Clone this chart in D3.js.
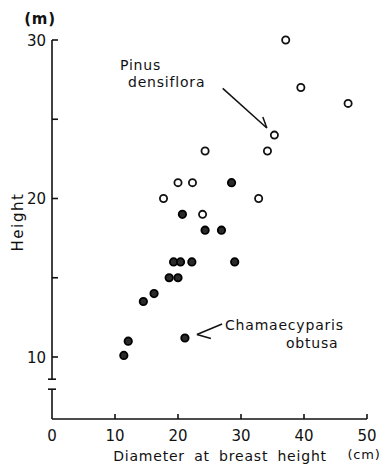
<!DOCTYPE html>
<html lang="en">
<head>
    <meta charset="UTF-8">
    <title>Height vs diameter</title>
    <script src="https://d3js.org/d3.v7.min.js"></script>
    <style>
        body{
            margin: 0;
            background: white;
        }
        text{
            font-family: "DejaVu Sans", sans-serif;
            fill: #111;
        }
        .lbl{
            font-size: 14px;
            letter-spacing: 0.8px;
        }
        .tick_lbl{
            font-size: 15px;
        }
    </style>
</head>
<body>
    <svg id="canvas" width="382" height="466"></svg>
    <script>
        // Pinus densiflora (open circles): diameter (cm), height (m)
        let pinusDbh    = [37.1, 39.5, 47.0, 35.3, 34.2, 24.3, 17.7, 20.0, 22.3, 23.9, 32.8]
        let pinusHeight = [30.0, 27.0, 26.0, 24.0, 23.0, 23.0, 20.0, 21.0, 21.0, 19.0, 20.0]
        // Chamaecyparis obtusa (filled circles)
        let chamDbh    = [28.5, 20.7, 24.3, 26.9, 19.3, 20.4, 22.2, 29.0, 18.6, 20.0, 16.2, 14.5, 12.1, 11.4, 21.1]
        let chamHeight = [21.0, 19.0, 18.0, 18.0, 16.0, 16.0, 16.0, 16.0, 15.0, 15.0, 14.0, 13.5, 11.0, 10.1, 11.2]

        let xTicks = [0, 10, 20, 30, 40, 50]
        let yTicks = [10, 15, 20, 25, 30]
        let yTickLabels = [10, 20, 30]

        let svg = d3.select('#canvas')
        let x0 = 52, x1 = 367
        let yBase = 419   // x axis position
        let xscale = d3.scaleLinear().domain([0, 50]).range([x0, x1])
        let yscale = d3.scaleLinear().domain([10, 30]).range([357, 40])

        let g = svg.append('g').attr('stroke', '#111').attr('fill', 'none').attr('stroke-width', 1.6)

        // y axis with break
        let breakTop = yscale(8.6), breakBot = breakTop + 10
        g.append('line').attr('x1', x0).attr('x2', x0).attr('y1', yscale(30)).attr('y2', breakTop)
        g.append('line').attr('x1', x0).attr('x2', x0).attr('y1', breakBot).attr('y2', yBase)
        g.append('line').attr('x1', x0 - 4).attr('x2', x0 + 4).attr('y1', breakTop).attr('y2', breakTop)
        g.append('line').attr('x1', x0 - 4).attr('x2', x0 + 4).attr('y1', breakBot).attr('y2', breakBot)
        g.selectAll('.ytick').data(yTicks).enter().append('line')
            .attr('x1', x0).attr('x2', x0 + 6)
            .attr('y1', d => yscale(d)).attr('y2', d => yscale(d))

        // x axis
        g.append('line').attr('x1', x0).attr('x2', x1).attr('y1', yBase).attr('y2', yBase)
        g.selectAll('.xtick').data(xTicks.slice(1)).enter().append('line')
            .attr('x1', d => xscale(d)).attr('x2', d => xscale(d))
            .attr('y1', yBase).attr('y2', yBase - 5)

        svg.selectAll('.ylab').data(yTickLabels).enter().append('text')
            .attr('class', 'tick_lbl')
            .attr('x', x0 - 6).attr('y', d => yscale(d) + 5.5)
            .attr('text-anchor', 'end')
            .text(d => d)
        svg.selectAll('.xlab').data(xTicks).enter().append('text')
            .attr('class', 'tick_lbl')
            .attr('x', d => xscale(d)).attr('y', yBase + 22)
            .attr('text-anchor', 'middle')
            .text(d => d)

        svg.append('text').attr('class', 'lbl').attr('x', 40).attr('y', 24)
            .attr('text-anchor', 'middle').style('font-size', '15px').style('font-weight', 'bold').text('(m)')
        svg.append('text').attr('class', 'lbl').attr('x', 364).attr('y', 459)
            .attr('text-anchor', 'middle').style('font-size', '13px').text('(cm)')
        svg.append('text').attr('class', 'lbl').attr('x', 220).attr('y', 461)
            .attr('text-anchor', 'middle').style('word-spacing', '4px')
            .text('Diameter at breast height')
        svg.append('text').attr('class', 'lbl')
            .attr('transform', 'translate(23,222) rotate(-90)')
            .attr('text-anchor', 'middle').style('font-size', '15px').style('letter-spacing', '1.6px')
            .text('Height')

        // points
        let pinus = pinusDbh.map((d, i) => ({x: d, y: pinusHeight[i]}))
        let cham = chamDbh.map((d, i) => ({x: d, y: chamHeight[i]}))
        svg.append('g').selectAll('circle').data(pinus).enter().append('circle')
            .attr('cx', d => xscale(d.x)).attr('cy', d => yscale(d.y)).attr('r', 3.6)
            .attr('fill', 'white').attr('stroke', '#111').attr('stroke-width', 1.8)
        svg.append('g').selectAll('circle').data(cham).enter().append('circle')
            .attr('cx', d => xscale(d.x)).attr('cy', d => yscale(d.y)).attr('r', 3.7)
            .attr('fill', '#2a2a2a').attr('stroke', '#000').attr('stroke-width', 1.8)

        // annotations
        let ann = svg.append('g').attr('stroke', '#111').attr('fill', 'none').attr('stroke-width', 1.5)
        let pTip = [xscale(34.1), yscale(24.45)]
        ann.append('line').attr('x1', xscale(27.1)).attr('y1', yscale(26.95)).attr('x2', pTip[0]).attr('y2', pTip[1])
        ann.append('line').attr('x1', pTip[0]).attr('y1', pTip[1]).attr('x2', pTip[0] - 4).attr('y2', pTip[1] - 11)
        let cTip = [xscale(23.0), yscale(11.42)]
        ann.append('line').attr('x1', xscale(27.0)).attr('y1', yscale(12.08)).attr('x2', cTip[0]).attr('y2', cTip[1])
        ann.append('line').attr('x1', cTip[0]).attr('y1', cTip[1]).attr('x2', cTip[0] + 14).attr('y2', cTip[1] + 4)

        svg.append('text').attr('class', 'lbl').attr('x', 120).attr('y', 70).text('Pinus')
        svg.append('text').attr('class', 'lbl').attr('x', 128).attr('y', 87).text('densiflora')
        svg.append('text').attr('class', 'lbl').attr('x', 225).attr('y', 330).text('Chamaecyparis')
        svg.append('text').attr('class', 'lbl').attr('x', 286).attr('y', 348).text('obtusa')
    </script>
</body>
</html>
